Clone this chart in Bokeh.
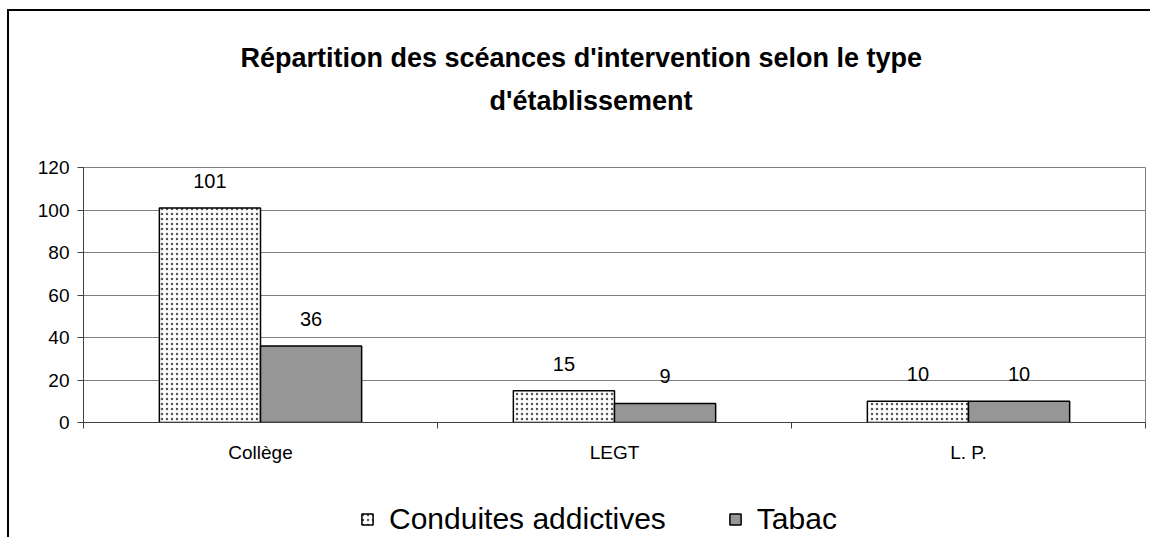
import numpy as np
from bokeh.plotting import figure
from bokeh.models import (ColumnDataSource, Range1d, FixedTicker, LabelSet, Title,
                          Legend, LegendItem)
from bokeh.layouts import column
from bokeh.core.properties import value
from bokeh.transform import dodge
from bokeh.embed import file_html
from bokeh.resources import INLINE

categories = ["Collège", "LEGT", "L. P."]
conduites = [101, 15, 10]
tabac = [36, 9, 10]
series_names = ["Conduites addictives", "Tabac"]
y_ticks = [0, 20, 40, 60, 80, 100, 120]
title_lines = ["Répartition des scéances d'intervention selon le type", "d'établissement"]

FONT = "Liberation Sans"
W = 1141
xs = [i + 0.5 for i in range(len(categories))]
src = ColumnDataSource(dict(x=xs, cat=categories, a=conduites, b=tabac,
                            at=[str(v) for v in conduites], bt=[str(v) for v in tabac]))

p = figure(width=W, height=461, output_backend="svg", toolbar_location=None,
           x_range=Range1d(0, len(categories)), y_range=Range1d(0, 120),
           min_border_left=74, min_border_right=5, min_border_top=156, min_border_bottom=50)
p.background_fill_color = "white"
p.border_fill_color = "white"
p.outline_line_color = "#808080"
p.outline_line_width = 1

bw = 1 / 3.5
style_a = dict(fill_color="white", line_color="black", line_width=1.5,
               hatch_pattern="dot", hatch_color="#555555", hatch_scale=5, hatch_weight=1.3)
style_b = dict(fill_color="#969696", line_color="black", line_width=1.5)
p.vbar(x=dodge("x", -bw / 2, range=p.x_range), top="a", width=bw, source=src, **style_a)
p.vbar(x=dodge("x", bw / 2, range=p.x_range), top="b", width=bw, source=src, **style_b)

for col, txt, off in (("a", "at", -bw / 2), ("b", "bt", bw / 2)):
    p.add_layout(LabelSet(x=dodge("x", off, range=p.x_range), y=col, text=txt, source=src,
                          y_offset=20, text_align="center", text_baseline="alphabetic",
                          text_font=value(FONT), text_font_size=value("20px"),
                          text_color="black"))

# axes
p.yaxis.ticker = FixedTicker(ticks=y_ticks)
p.yaxis.axis_line_color = "#404040"
p.yaxis.major_tick_line_color = "#404040"
p.yaxis.major_tick_in = 0
p.yaxis.major_tick_out = 6
p.yaxis.minor_tick_line_color = None
p.yaxis.major_label_standoff = 8
p.yaxis.major_label_text_font = FONT
p.yaxis.major_label_text_font_size = "19px"
p.yaxis.major_label_text_color = "black"

p.xaxis.ticker = FixedTicker(ticks=xs, minor_ticks=list(range(len(categories) + 1)))
p.xaxis.major_label_overrides = {x: c for x, c in zip(xs, categories)}
p.xaxis.axis_line_color = "#404040"
p.xaxis.major_tick_line_color = None
p.xaxis.minor_tick_line_color = "#404040"
p.xaxis.minor_tick_in = 0
p.xaxis.minor_tick_out = 6
p.xaxis.major_label_standoff = 13
p.xaxis.major_label_text_font = FONT
p.xaxis.major_label_text_font_size = "19px"
p.xaxis.major_label_text_color = "black"

p.xgrid.grid_line_color = None
p.ygrid.grid_line_color = "#808080"
p.ygrid.grid_line_width = 1

# title (first added sits closest to the frame)
p.add_layout(Title(text=" ", text_font_size="1px", standoff=49), "above")
p.add_layout(Title(text=title_lines[1], align="left", offset=406, standoff=0,
                   text_font=FONT, text_font_style="bold", text_font_size="27px",
                   text_color="black"), "above")
p.add_layout(Title(text=title_lines[0], align="left", offset=157, standoff=21,
                   text_font=FONT, text_font_style="bold", text_font_size="27px",
                   text_color="black"), "above")

# legend strip below the chart (swatch renderers hold no drawable data)
lp = figure(width=W, height=65, output_backend="svg", toolbar_location=None,
            x_range=Range1d(0, 1), y_range=Range1d(0, 1),
            x_axis_type=None, y_axis_type=None,
            min_border=0, min_border_left=0, min_border_right=0,
            min_border_top=0, min_border_bottom=0)
lp.outline_line_color = None
lp.background_fill_color = "white"
lp.border_fill_color = "white"
lp.xgrid.visible = False
lp.ygrid.visible = False
swatch_src = ColumnDataSource(dict(x=np.array([np.nan]), top=np.array([np.nan])))
la = lp.vbar(x="x", top="top", width=0.1, source=swatch_src, **style_a)
lb = lp.vbar(x="x", top="top", width=0.1, source=swatch_src, **style_b)
legend = Legend(items=[LegendItem(label=series_names[0], renderers=[la]),
                       LegendItem(label=series_names[1], renderers=[lb])],
                location=(277, 1), orientation="horizontal",
                glyph_width=14, glyph_height=14, label_standoff=15, spacing=62,
                padding=0, margin=0, border_line_color=None, background_fill_alpha=0,
                label_text_font=FONT, label_text_font_size="30px", label_text_color="black")
lp.add_layout(legend, "center")

layout = column(p, lp, spacing=0)
layout.margin = (9, 0, 0, 7)
layout.styles = {"border-left": "2px solid black", "border-top": "2px solid black"}

open("out.html", "w").write(file_html(layout, INLINE))
